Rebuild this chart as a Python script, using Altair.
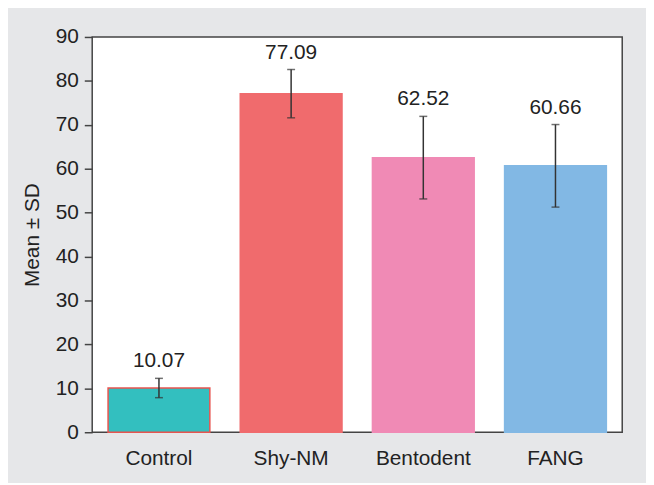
import altair as alt
import pandas as pd

groups = ["Control", "Shy-NM", "Bentodent", "FANG"]
means = [10.07, 77.09, 62.52, 60.66]
sds = [2.2, 5.5, 9.4, 9.4]
value_labels = ["10.07", "77.09", "62.52", "60.66"]
fills = ["#33BFBF", "#F06B6D", "#F08AB5", "#82B8E4"]
strokes = ["#E8544F", "#F06B6D", "#F08AB5", "#82B8E4"]
y_ticks = [0, 10, 20, 30, 40, 50, 60, 70, 80, 90]

df = pd.DataFrame({"group": groups, "mean": means, "sd": sds, "label": value_labels})
df["low"] = df["mean"] - df["sd"]
df["high"] = df["mean"] + df["sd"]

FONT = "Liberation Sans"
TXT = "#222222"
FS = 21

x = alt.X(
    "group:N",
    sort=groups,
    scale=alt.Scale(paddingInner=0.23, paddingOuter=0.12),
    axis=alt.Axis(title=None, labelAngle=0, ticks=False, domain=False,
                  labelPadding=16, labelFontSize=FS, labelColor=TXT, labelFont=FONT),
)
yscale = alt.Scale(domain=[0, 90], nice=False)
yaxis = alt.Axis(values=y_ticks, grid=False, domain=False, tickSize=8, tickColor="#444",
                 tickWidth=1.5, labelPadding=6, labelFontSize=FS, labelColor=TXT,
                 labelFont=FONT, title="Mean ± SD", titleFontSize=FS, titleFont=FONT,
                 titleFontWeight="normal", titleColor=TXT, titlePadding=13)

base = alt.Chart(df)

bars = base.mark_bar(strokeWidth=1.5).encode(
    x=x,
    y=alt.Y("mean:Q", scale=yscale, axis=yaxis),
    fill=alt.Fill("group:N", scale=alt.Scale(domain=groups, range=fills), legend=None),
    stroke=alt.Stroke("group:N", scale=alt.Scale(domain=groups, range=strokes), legend=None),
)

rules = base.mark_rule(color="#333333", strokeWidth=1.5).encode(
    x=alt.X("group:N", sort=groups), y=alt.Y("low:Q"), y2="high:Q"
)
cap_hi = base.mark_tick(color="#333333", size=8, thickness=1.5, orient="horizontal").encode(
    x=alt.X("group:N", sort=groups), y=alt.Y("high:Q")
)
cap_lo = base.mark_tick(color="#333333", size=8, thickness=1.5, orient="horizontal").encode(
    x=alt.X("group:N", sort=groups), y=alt.Y("low:Q")
)
texts = base.mark_text(dy=-7, baseline="bottom", fontSize=FS, font=FONT, color=TXT).encode(
    x=alt.X("group:N", sort=groups), y=alt.Y("high:Q"), text="label:N"
)

chart = (
    alt.layer(bars, rules, cap_hi, cap_lo, texts)
    .properties(
        width=535,
        height=399,
        autosize=alt.AutoSizeParams(type="none"),
        padding={"left": 85, "top": 27, "right": 24, "bottom": 49},
        background="#E6E7E9",
    )
    .configure_view(stroke="#444444", strokeWidth=1.5, fill="white")
)

chart.save("out.html", embed_options={"renderer": "svg", "actions": False})
